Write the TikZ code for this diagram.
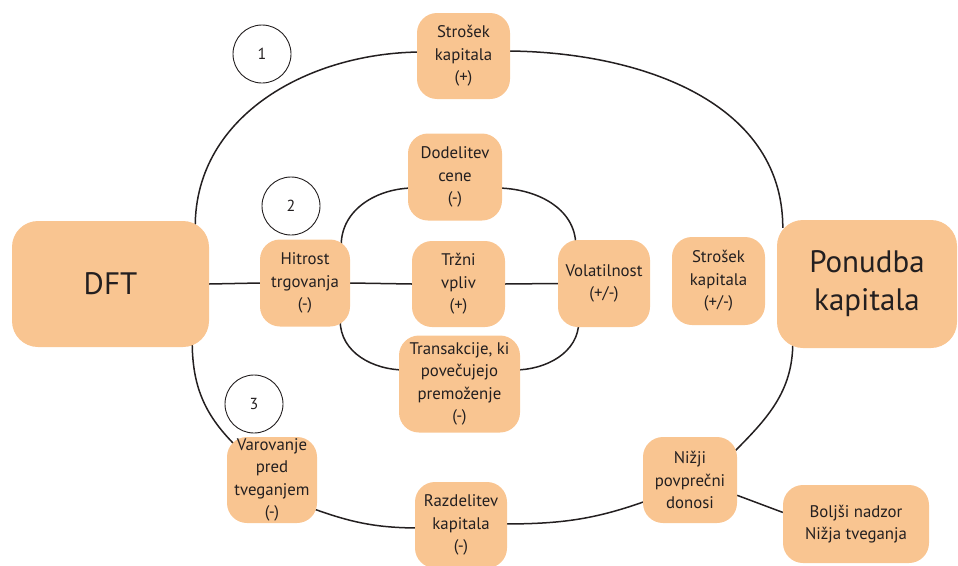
\documentclass[tikz,border=0pt]{standalone}
\usepackage{fontspec}
\setmainfont{PT Sans}
\usetikzlibrary{calc,backgrounds}
\definecolor{boxfill}{HTML}{F9C591}
\definecolor{ink}{HTML}{231F20}
\tikzset{
  box/.style={rectangle, rounded corners=20pt, fill=boxfill, inner sep=0pt,
    align=center, text=ink, font=\fontsize{16.8}{22.5}\selectfont},
  bigbox/.style={box, rounded corners=26pt, font=\fontsize{31}{38}\selectfont},
  link/.style={draw=ink, line width=1.5pt},
  badge/.style={circle, draw=ink, line width=0.9pt, minimum size=58pt,
    inner sep=0pt, text=ink, font=\fontsize{16}{18}\selectfont},
}
\begin{document}
\begin{tikzpicture}[x=1pt,y=1pt]
\useasboundingbox (0,0) rectangle (958,-565);

% main boxes
\node[bigbox, minimum width=197pt, minimum height=126pt] (dft) at (110.5,-284) {DFT};
\node[bigbox, minimum width=180pt, minimum height=128pt] (pon) at (867,-284) {Ponudba\\kapitala};

% intermediate effects
\node[box, minimum width=93pt, minimum height=86pt] (sk1) at (463.5,-56) {Strošek\\kapitala\\(+)};
\node[box, minimum width=94pt, minimum height=87pt] (dod) at (455,-177) {Dodelitev\\cene\\(-)};
\node[box, minimum width=90pt, minimum height=87pt] (hit) at (305,-283) {Hitrost\\trgovanja\\(-)};
\node[box, minimum width=93pt, minimum height=86pt] (trz) at (458.5,-284) {Tržni\\vpliv\\(+)};
\node[box, minimum width=92pt, minimum height=87pt] (vol) at (604,-283.5) {Volatilnost\\(+/-)};
\node[box, minimum width=93pt, minimum height=88pt] (sk2) at (718.5,-281) {Strošek\\kapitala\\(+/-)};
\node[box, minimum width=121pt, minimum height=97pt] (tra) at (459.5,-384) {Transakcije, ki\\povečujejo\\premoženje\\(-)};
\node[box, minimum width=90pt, minimum height=86pt] (var) at (272,-480) {Varovanje\\pred\\tveganjem\\(-)};
\node[box, minimum width=92pt, minimum height=86pt] (raz) at (461,-525) {Razdelitev\\kapitala\\(-)};
\node[box, minimum width=94pt, minimum height=86pt] (niz) at (690,-480) {Nižji\\povprečni\\donosi};
\node[box, minimum width=146pt, minimum height=78pt] (bol) at (856,-524) {Boljši nadzor\\Nižja tveganja};

% numbered channels
\node[badge] (c1) at (262,-54) {1};
\node[badge] (c2) at (291,-206) {2};
\node[badge] (c3) at (254,-404) {3};

\begin{pgfonlayer}{background}
  % channel 1: cost of capital
  \draw[link] ($(dft.north east)+(-14,-6)$) to[out=90,in=180] ($(sk1.west)+(6,4)$);
  \draw[link] ($(sk1.east)+(-6,5)$) to[out=0,in=90] ($(pon.north west)+(6,-8)$);
  % channel 2: trading speed
  \draw[link] (dft.east) -- (hit.west);
  \draw[link] (hit.east) -- (trz.west);
  \draw[link] (trz.east) -- (vol.west);
  \draw[link] ($(hit.north east)+(-9,-6)$) to[out=90,in=180] ($(dod.west)+(6,-11)$);
  \draw[link] ($(dod.east)+(-6,-11)$) to[out=0,in=90] ($(vol.north west)+(18,-6)$);
  \draw[link] ($(hit.south east)+(-10,6)$) to[out=-90,in=180] ($(tra.west)+(6,14)$);
  \draw[link] ($(tra.east)+(-6,14)$) to[out=0,in=-90] ($(vol.south west)+(21,6)$);
  % channel 3: hedging
  \draw[link] ($(dft.south east)+(-17,6)$) to[out=-90,in=135] ($(var.north west)+(8,-8)$);
  \draw[link] ($(var.east)+(-6,-28)$) to[out=-20,in=180] ($(raz.west)+(6,-3)$);
  \draw[link] ($(raz.east)+(-6,1)$) to[out=0,in=-160] ($(niz.west)+(6,-20)$);
  \draw[link] ($(niz.north east)+(-6,-18)$) to[out=45,in=-90] ($(pon.south west)+(16,6)$);
  \draw[link] (niz.-18) -- (bol.171);
\end{pgfonlayer}
\end{tikzpicture}
\end{document}
